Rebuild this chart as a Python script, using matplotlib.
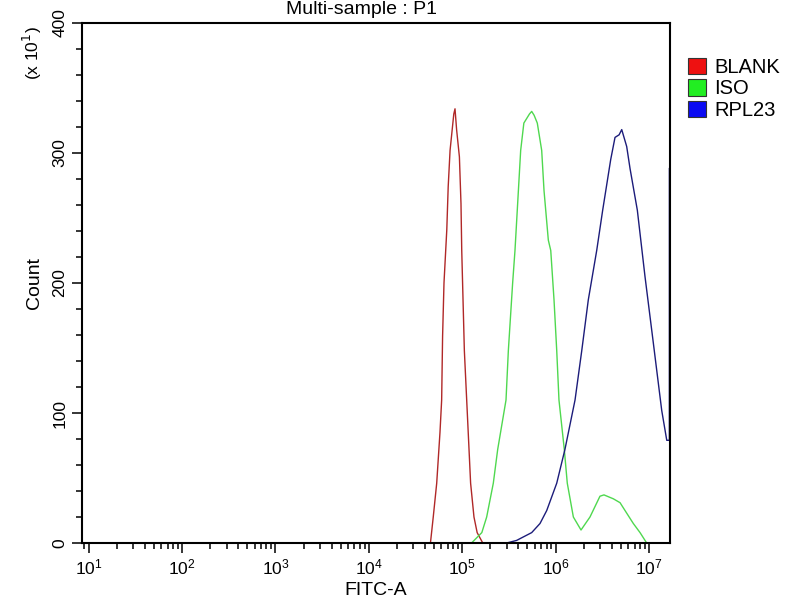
import numpy as np
import matplotlib
matplotlib.use("Agg")
import matplotlib.pyplot as plt
from matplotlib.patches import Patch
from matplotlib.ticker import FixedLocator, LogLocator, NullFormatter

plt.rcParams['font.family'] = ['Liberation Sans', 'DejaVu Sans']

# histogram outlines: log10(FITC-A) and count (x10)
blank_log = [4.66, 4.69, 4.727, 4.762, 4.78, 4.79, 4.805, 4.835, 4.85, 4.87, 4.91,
             4.923, 4.94, 4.97, 4.987, 4.995, 5.023, 5.048, 5.073, 5.09, 5.126, 5.16, 5.22]
blank_cnt = [0, 20, 46, 85, 110, 159, 200, 241, 274, 302, 330,
             334, 318, 297, 261, 225, 148, 110, 72, 46, 20, 8, 0]

iso_log = [5.10, 5.21, 5.262, 5.333, 5.38, 5.469, 5.494, 5.54, 5.565, 5.626, 5.66, 5.72,
           5.744, 5.77, 5.804, 5.851, 5.876, 5.922, 5.948, 5.983, 6.012, 6.036, 6.093,
           6.125, 6.19, 6.272, 6.368, 6.475, 6.518, 6.618, 6.69, 6.743, 6.832, 6.904, 6.975]
iso_cnt = [0, 8, 20, 46, 72, 110, 148, 200, 225, 302, 323, 330,
           332, 329, 323, 302, 271, 233, 225, 187, 148, 110, 72,
           46, 20, 10, 20, 36, 37, 34, 31, 25, 15, 8, 0]

rpl_log = [5.476, 5.583, 5.744, 5.833, 5.905, 6.012, 6.10, 6.208, 6.28, 6.35, 6.44,
           6.504, 6.59, 6.636, 6.68, 6.708, 6.761, 6.797, 6.875, 6.957, 7.046, 7.136,
           7.19, 7.218, 7.218]
rpl_cnt = [0, 2, 8, 15, 25, 46, 72, 110, 148, 187, 225,
           256, 295, 312, 314, 318, 305, 288, 256, 205, 154, 102,
           79, 79, 288]

names = ['BLANK', 'ISO', 'RPL23']
line_colors = ['#b02828', '#4fd84f', '#1c1c7a']
box_colors = ['#ee1111', '#22ee22', '#0b0bf2']

fig = plt.figure(figsize=(8, 6), dpi=100)
ax = fig.add_axes([82/800, 1-543/600, 588/800, 520/600])

for lg, ct, c in zip([blank_log, iso_log, rpl_log],
                     [blank_cnt, iso_cnt, rpl_cnt], line_colors):
    ax.plot(10**np.array(lg), ct, color=c, lw=1.0)

ax.set_xscale('log')
ax.set_xlim(8.5, 16777216)
ax.set_ylim(0, 400)
ax.xaxis.set_major_locator(FixedLocator([1e1, 1e2, 1e3, 1e4, 1e5, 1e6, 1e7]))
ax.xaxis.set_minor_locator(LogLocator(base=10, subs=np.arange(2, 10), numticks=12))
ax.xaxis.set_minor_formatter(NullFormatter())
ax.yaxis.set_major_locator(FixedLocator([0, 100, 200, 300, 400]))
ax.yaxis.set_minor_locator(FixedLocator(np.arange(0, 401, 20)))

for s in ax.spines.values():
    s.set_linewidth(1.5)
ax.tick_params(which='both', direction='out', width=1.1, top=False, right=False)
ax.tick_params(which='major', length=7, labelsize=12.5)
ax.tick_params(which='minor', length=4.5)
for t in ax.get_yticklabels():
    t.set_rotation(90)
    t.set_va('center')

ax.set_xlabel('FITC-A', fontsize=14, labelpad=3)
ax.set_ylabel('Count', fontsize=14, labelpad=7)
fig.text(32/800, 1-53/600, '(x 10$^1$)', rotation=90, fontsize=12.5,
         ha='center', va='center')
fig.text(362/800, 1-9/600, 'Multi-sample : P1', fontsize=14,
         ha='center', va='center')

handles = [Patch(facecolor=c, edgecolor='#333333', lw=0.8) for c in box_colors]
fig.legend(handles, names, loc='upper left', bbox_to_anchor=(680/800, 1-50/600),
           frameon=False, fontsize=14.5, handlelength=0.9, handleheight=0.85,
           handletextpad=0.4, labelspacing=0.12, borderaxespad=0)

fig.savefig('out.png', dpi=100)
